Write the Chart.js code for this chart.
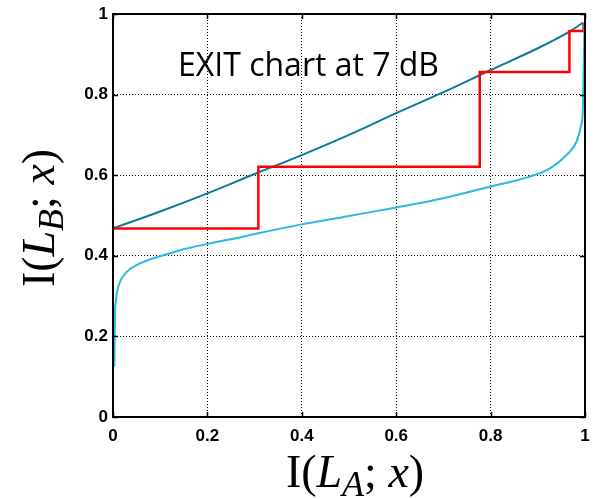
<!DOCTYPE html>
<html><head><meta charset="utf-8">
<script src="https://cdn.jsdelivr.net/npm/chart.js@4/dist/chart.umd.min.js"></script>
<style>html,body{margin:0;padding:0;background:#fff;}#wrap{width:595px;height:499px;}</style>
</head><body><div id="wrap"><canvas id="c" width="595" height="499"></canvas></div>
<script>
// ---- data ----
const tickValues = [0, 0.2, 0.4, 0.6, 0.8, 1];
const tickLabels = ['0', '0.2', '0.4', '0.6', '0.8', '1'];

// straight-ish transfer curve (dark teal)
const curveAX = [0, 0.1, 0.2, 0.3, 0.4, 0.5, 0.6, 0.7, 0.8, 0.9, 0.968, 0.996];
const curveAY = [0.468, 0.51, 0.555, 0.603, 0.650, 0.700, 0.754, 0.806, 0.861, 0.915, 0.957, 0.979];

// S-shaped transfer curve (light blue)
const curveBX = [0.003, 0.004, 0.006, 0.008, 0.015, 0.029, 0.05, 0.078, 0.114, 0.156, 0.206, 0.25, 0.3, 0.4, 0.5, 0.6, 0.7, 0.8, 0.876, 0.926, 0.961, 0.982, 0.992, 0.995, 0.997, 0.999];
const curveBY = [0.125, 0.25, 0.285, 0.307, 0.336, 0.36, 0.377, 0.391, 0.404, 0.418, 0.431, 0.441, 0.454, 0.478, 0.499, 0.52, 0.543, 0.572, 0.594, 0.617, 0.650, 0.683, 0.725, 0.75, 0.85, 0.98];

// decoding trajectory (red staircase)
const trajX = [0, 0.308, 0.308, 0.777, 0.777, 0.967, 0.967, 0.997, 0.997];
const trajY = [0.468, 0.468, 0.621, 0.621, 0.856, 0.856, 0.958, 0.958, 0.977];

const titleText = 'EXIT chart at 7 dB';

const toPts = (xs, ys) => xs.map((x, i) => ({x: x, y: ys[i]}));

// ---- drawing helpers ----
function mathSegs(sub) {
  return [
    {t: 'I(', it: false},
    {t: 'L', it: true},
    {t: sub, it: true, sub: true},
    {t: '; ', it: false},
    {t: 'x', it: true},
    {t: ')', it: false}
  ];
}
function fontFor(s, size) {
  const sz = s.sub ? Math.round(size * 0.78) : size;
  return (s.it ? 'italic ' : '') + sz + 'px "Liberation Serif", "Times New Roman", serif';
}
function drawMath(ctx, segs, size, cx, baseY) {
  let w = 0;
  const ws = segs.map(s => { ctx.font = fontFor(s, size); const m = ctx.measureText(s.t).width; w += m; return m; });
  let x = cx - w / 2;
  ctx.textAlign = 'left';
  ctx.textBaseline = 'alphabetic';
  ctx.fillStyle = '#000';
  segs.forEach((s, i) => {
    ctx.font = fontFor(s, size);
    ctx.fillText(s.t, x, baseY + (s.sub ? size * 0.2 : 0));
    x += ws[i];
  });
}

const framePlugin = {
  id: 'frame',
  afterDatasetsDraw(chart) {
    const ctx = chart.ctx;
    const a = chart.chartArea;
    const xs = chart.scales.x, ys = chart.scales.y;
    ctx.save();
    ctx.strokeStyle = '#000';
    ctx.lineWidth = 2;
    ctx.setLineDash([]);
    ctx.strokeRect(a.left, a.top, a.right - a.left, a.bottom - a.top);
    ctx.lineWidth = 1.5;
    const L = 5;
    tickValues.forEach(v => {
      const px = Math.round(xs.getPixelForValue(v)) + 0.5;
      const py = Math.round(ys.getPixelForValue(v)) + 0.5;
      ctx.beginPath();
      ctx.moveTo(px, a.bottom); ctx.lineTo(px, a.bottom - L);
      ctx.moveTo(px, a.top); ctx.lineTo(px, a.top + L);
      ctx.moveTo(a.left, py); ctx.lineTo(a.left + L, py);
      ctx.moveTo(a.right, py); ctx.lineTo(a.right - L, py);
      ctx.stroke();
    });
    // title inside plot
    ctx.fillStyle = '#000';
    ctx.font = '32px "Open Sans", "Noto Sans", sans-serif';
    ctx.textAlign = 'left';
    ctx.textBaseline = 'alphabetic';
    ctx.fillText(titleText, 178, 76);
    // axis titles
    drawMath(ctx, mathSegs('A'), 46, 355, 487);
    ctx.save();
    ctx.translate(54, 218);
    ctx.rotate(-Math.PI / 2);
    drawMath(ctx, mathSegs('B'), 46, 0, 0);
    ctx.restore();
    ctx.restore();
  }
};

const tickFont = {family: '"Liberation Sans", Arial, sans-serif', size: 17, weight: 'bold'};

new Chart(document.getElementById('c'), {
  type: 'scatter',
  data: {
    datasets: [
      {label: 'B', data: toPts(curveBX, curveBY), showLine: true, borderColor: '#2db9e1', borderWidth: 2, pointRadius: 0, cubicInterpolationMode: 'monotone', fill: false},
      {label: 'traj', data: toPts(trajX, trajY), showLine: true, borderColor: '#ff0000', borderWidth: 2.5, pointRadius: 0, tension: 0, fill: false},
      {label: 'A', data: toPts(curveAX, curveAY), showLine: true, borderColor: '#0c7a9c', borderWidth: 2, pointRadius: 0, cubicInterpolationMode: 'monotone', fill: false}
    ]
  },
  options: {
    responsive: false,
    animation: false,
    devicePixelRatio: 1,
    layout: {padding: {left: 0, right: 10, top: 14, bottom: 0}},
    plugins: {legend: {display: false}, tooltip: {enabled: false}, title: {display: false}},
    scales: {
      x: {
        type: 'linear', min: 0, max: 1,
        afterBuildTicks: s => { s.ticks = tickValues.map(v => ({value: v})); },
        afterFit: s => { s.height = 82; s.paddingLeft = 0; s.paddingRight = 0; },
        ticks: {font: tickFont, color: '#000', padding: 9, maxRotation: 0, autoSkip: false, callback: (v, i) => tickLabels[i]},
        grid: {color: '#000', lineWidth: 1, drawTicks: false},
        border: {display: true, color: '#000', width: 2, dash: [1, 2]}
      },
      y: {
        type: 'linear', min: 0, max: 1,
        afterBuildTicks: s => { s.ticks = tickValues.map(v => ({value: v})); },
        afterFit: s => { s.width = 113; s.paddingTop = 0; s.paddingBottom = 0; },
        ticks: {font: tickFont, color: '#000', padding: 5, autoSkip: false, callback: (v, i) => tickLabels[i]},
        grid: {color: '#000', lineWidth: 1, drawTicks: false},
        border: {display: true, color: '#000', width: 2, dash: [1, 2]}
      }
    }
  },
  plugins: [framePlugin]
});
</script>
</body></html>
